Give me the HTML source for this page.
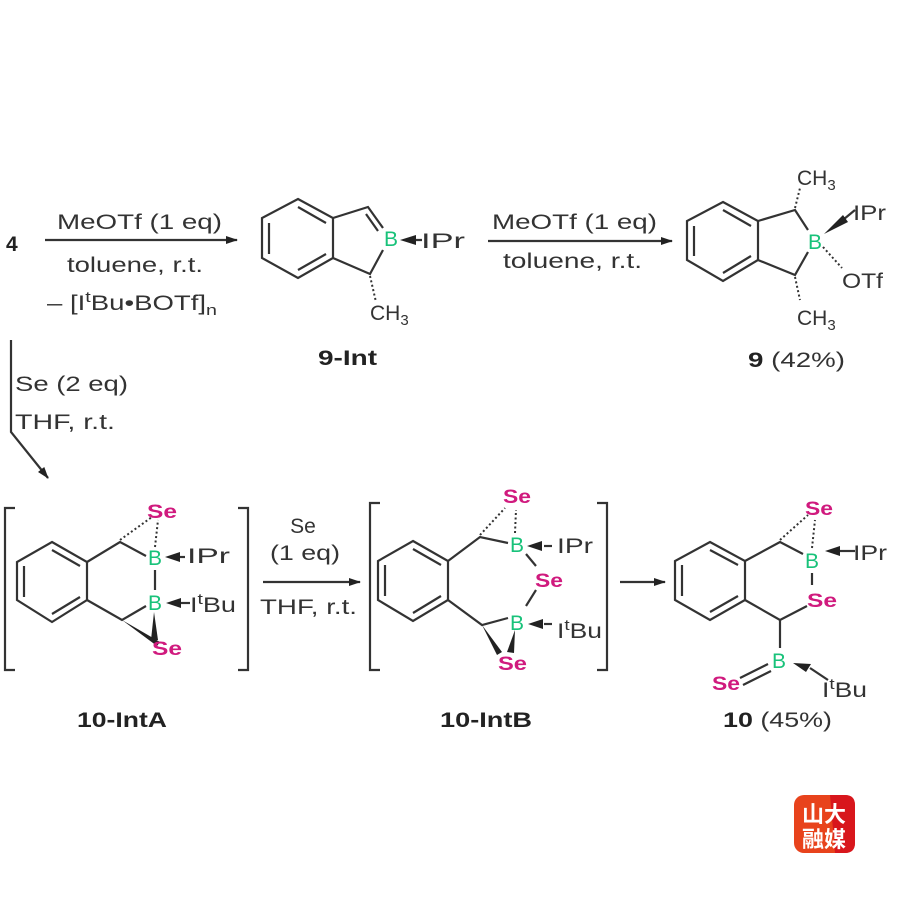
<!DOCTYPE html>
<html><head><meta charset="utf-8"><style>
html,body{margin:0;padding:0;background:#fff;}
svg{display:block;}
text{font-family:"Liberation Sans",sans-serif;font-size:21px;fill:#333;}
.b{font-weight:bold;fill:#222;}
.se{fill:#d01a7e;font-weight:bold;font-size:19px;}
.bo{fill:#18c27a;font-size:21px;}
.sub{font-size:15px;}
</style></head><body>
<svg width="900" height="900" viewBox="0 0 900 900" xmlns="http://www.w3.org/2000/svg">
<defs>
<marker id="ah" markerWidth="12" markerHeight="8" refX="11" refY="4" orient="auto" markerUnits="userSpaceOnUse"><path d="M0,0 L12,4 L0,8 z" fill="#222"/></marker>
</defs>
<g stroke="#333" stroke-width="2.2" fill="none">
<line x1="45" y1="240" x2="237" y2="240" marker-end="url(#ah)"/>
<line x1="488" y1="241" x2="672" y2="241" marker-end="url(#ah)"/>
<polyline points="11,340 11,432 48,478" marker-end="url(#ah)"/>
<line x1="263" y1="582" x2="360" y2="582" marker-end="url(#ah)"/>
<line x1="620" y1="582" x2="665" y2="582" marker-end="url(#ah)"/>
<polyline points="15,508 5,508 5,670 15,670"/>
<polyline points="238,508 248,508 248,670 238,670"/>
<polyline points="380,503 370,503 370,670 380,670"/>
<polyline points="597,503 607,503 607,670 597,670"/>

<polygon points="298,199 333,218 333,258 298,278 262,258 262,218"/>
<line x1="298" y1="207" x2="326" y2="223"/><line x1="298" y1="270" x2="326" y2="254"/><line x1="269" y1="223" x2="269" y2="254"/>
<polyline points="333,218 368,207 383,228"/>
<line x1="366" y1="214" x2="378" y2="231"/>
<polyline points="333,258 370,274 383,250"/>
<line x1="405" y1="240" x2="422" y2="240"/>

<polygon points="723,202 758,221 758,260 723,281 687,260 687,221"/>
<line x1="723" y1="210" x2="751" y2="226"/><line x1="723" y1="273" x2="751" y2="256"/><line x1="694" y1="226" x2="694" y2="256"/>
<polyline points="758,221 795,210 808,230"/>
<polyline points="758,260 795,275 808,252"/>
<line x1="855" y1="210" x2="838" y2="224"/>

<polygon points="52,542 87,562 87,600 52,622 17,600 17,562"/>
<line x1="52" y1="550" x2="80" y2="566"/><line x1="52" y1="614" x2="80" y2="597"/><line x1="24" y1="566" x2="24" y2="597"/>
<polyline points="87,562 120,542 146,556"/>
<polyline points="87,600 122,620 146,606"/>
<line x1="155" y1="570" x2="155" y2="590"/>
<line x1="185" y1="557" x2="178" y2="557"/>
<line x1="190" y1="603" x2="180" y2="603"/>

<polygon points="413,541 448,561 448,600 413,621 378,600 378,561"/>
<line x1="413" y1="549" x2="441" y2="565"/><line x1="413" y1="613" x2="441" y2="596"/><line x1="385" y1="565" x2="385" y2="596"/>
<polyline points="448,561 480,537 508,543"/>
<polyline points="448,600 482,625 508,618"/>
<line x1="526" y1="554" x2="536" y2="566"/>
<line x1="536" y1="590" x2="526" y2="606"/>
<line x1="552" y1="546" x2="544" y2="546"/>
<line x1="552" y1="624" x2="544" y2="624"/>

<polygon points="710,542 745,561 745,600 710,620 675,600 675,561"/>
<line x1="710" y1="550" x2="738" y2="565"/><line x1="710" y1="612" x2="738" y2="596"/><line x1="682" y1="565" x2="682" y2="596"/>
<polyline points="745,561 780,542 803,554"/>
<polyline points="745,600 780,620 807,606"/>
<line x1="812" y1="573" x2="812" y2="585"/>
<line x1="780" y1="620" x2="780" y2="648"/>
<line x1="740" y1="678" x2="768" y2="664"/><line x1="743" y1="685" x2="771" y2="671"/>
<line x1="828" y1="680" x2="810" y2="668"/>
<line x1="855" y1="551" x2="840" y2="551"/>
</g>
<g fill="#222">
<polygon points="400,240 416,235 416,245"/>
<polygon points="824,234 843,215 848,222"/>
<polygon points="165,557 180,552 180,562"/>
<polygon points="166,603 181,598 181,608"/>
<polygon points="527,546 542,541 542,551"/>
<polygon points="528,624 543,619 543,629"/>
<polygon points="793,663 811,664 806,672"/>
<polygon points="825,551 840,546 840,556"/>
<polygon points="122,620 160,642 157,646"/>
<polygon points="154,612 151,640 158,640"/>
<polygon points="482,625 502,652 497,655"/>
<polygon points="515,630 507,652 514,653"/>
</g>
<g stroke="#333" stroke-width="2" stroke-dasharray="2,2.5" fill="none">
<line x1="370" y1="276" x2="376" y2="302"/>
<line x1="795" y1="208" x2="800" y2="188"/>
<line x1="795" y1="277" x2="800" y2="300"/>
<line x1="823" y1="247" x2="842" y2="268"/>
<line x1="120" y1="540" x2="152" y2="517"/>
<line x1="155" y1="547" x2="158" y2="520"/>
<line x1="480" y1="535" x2="505" y2="508"/>
<line x1="515" y1="533" x2="516" y2="510"/>
<line x1="780" y1="540" x2="808" y2="515"/>
<line x1="812" y1="548" x2="815" y2="520"/>
</g>

<text x="6" y="251" class="b">4</text>
<text x="57" y="229" textLength="165" lengthAdjust="spacingAndGlyphs">MeOTf (1 eq)</text>
<text x="67" y="272" textLength="136" lengthAdjust="spacingAndGlyphs">toluene, r.t.</text>
<text x="47" y="310" textLength="170" lengthAdjust="spacingAndGlyphs">– [I<tspan class="sub" dy="-8">t</tspan><tspan dy="8">Bu•BOTf]</tspan><tspan class="sub" dy="5">n</tspan></text>
<text x="391" y="246" class="bo" text-anchor="middle">B</text>
<text x="421" y="248" textLength="44" lengthAdjust="spacingAndGlyphs">IPr</text>
<text x="370" y="320">CH<tspan class="sub" dy="5">3</tspan></text>
<text x="318" y="365" class="b" textLength="59" lengthAdjust="spacingAndGlyphs">9-Int</text>

<text x="492" y="229" textLength="165" lengthAdjust="spacingAndGlyphs">MeOTf (1 eq)</text>
<text x="503" y="268" textLength="139" lengthAdjust="spacingAndGlyphs">toluene, r.t.</text>
<text x="797" y="185">CH<tspan class="sub" dy="5">3</tspan></text>
<text x="853" y="220" textLength="33" lengthAdjust="spacingAndGlyphs">IPr</text>
<text x="815" y="249" class="bo" text-anchor="middle">B</text>
<text x="842" y="288" textLength="41" lengthAdjust="spacingAndGlyphs">OTf</text>
<text x="797" y="325">CH<tspan class="sub" dy="5">3</tspan></text>
<text x="748" y="367" textLength="97" lengthAdjust="spacingAndGlyphs"><tspan class="b">9</tspan> (42%)</text>

<text x="15" y="391" textLength="113" lengthAdjust="spacingAndGlyphs">Se (2 eq)</text>
<text x="15" y="429" textLength="100" lengthAdjust="spacingAndGlyphs">THF, r.t.</text>

<text x="147" y="518" class="se" textLength="30" lengthAdjust="spacingAndGlyphs">Se</text>
<text x="155" y="565" class="bo" text-anchor="middle">B</text>
<text x="187" y="563" textLength="43" lengthAdjust="spacingAndGlyphs">IPr</text>
<text x="155" y="610" class="bo" text-anchor="middle">B</text>
<text x="190" y="612" textLength="46" lengthAdjust="spacingAndGlyphs">I<tspan class="sub" dy="-8">t</tspan><tspan dy="8">Bu</tspan></text>
<text x="152" y="655" class="se" textLength="30" lengthAdjust="spacingAndGlyphs">Se</text>
<text x="77" y="727" class="b" textLength="90" lengthAdjust="spacingAndGlyphs">10-IntA</text>

<text x="303" y="533" text-anchor="middle">Se</text>
<text x="270" y="560" textLength="70" lengthAdjust="spacingAndGlyphs">(1 eq)</text>
<text x="260" y="614" textLength="97" lengthAdjust="spacingAndGlyphs">THF, r.t.</text>

<text x="503" y="503" class="se" textLength="28" lengthAdjust="spacingAndGlyphs">Se</text>
<text x="517" y="552" class="bo" text-anchor="middle">B</text>
<text x="557" y="553" textLength="36" lengthAdjust="spacingAndGlyphs">IPr</text>
<text x="535" y="587" class="se" textLength="28" lengthAdjust="spacingAndGlyphs">Se</text>
<text x="517" y="630" class="bo" text-anchor="middle">B</text>
<text x="557" y="638" textLength="45" lengthAdjust="spacingAndGlyphs">I<tspan class="sub" dy="-8">t</tspan><tspan dy="8">Bu</tspan></text>
<text x="498" y="670" class="se" textLength="29" lengthAdjust="spacingAndGlyphs">Se</text>
<text x="440" y="727" class="b" textLength="92" lengthAdjust="spacingAndGlyphs">10-IntB</text>

<text x="805" y="515" class="se" textLength="28" lengthAdjust="spacingAndGlyphs">Se</text>
<text x="812" y="568" class="bo" text-anchor="middle">B</text>
<text x="853" y="560" textLength="34" lengthAdjust="spacingAndGlyphs">IPr</text>
<text x="807" y="607" class="se" textLength="30" lengthAdjust="spacingAndGlyphs">Se</text>
<text x="779" y="668" class="bo" text-anchor="middle">B</text>
<text x="712" y="690" class="se" textLength="28" lengthAdjust="spacingAndGlyphs">Se</text>
<text x="822" y="697" textLength="45" lengthAdjust="spacingAndGlyphs">I<tspan class="sub" dy="-8">t</tspan><tspan dy="8">Bu</tspan></text>
<text x="723" y="727" textLength="109" lengthAdjust="spacingAndGlyphs"><tspan class="b">10</tspan> (45%)</text>

<rect x="794" y="795" width="61" height="58" rx="10" fill="#e8431c"/>
<path d="M830,795 L845,795 Q855,795 855,805 L855,843 Q855,853 845,853 L835,853 Z" fill="#d8161c"/>
<text x="824" y="822" text-anchor="middle" style="font-family:'Noto Sans CJK SC',sans-serif;font-size:22px;font-weight:bold;fill:#fff;">山大</text>
<text x="824" y="847" text-anchor="middle" style="font-family:'Noto Sans CJK SC',sans-serif;font-size:22px;font-weight:bold;fill:#fff;">融媒</text>
</svg>
</body></html>
